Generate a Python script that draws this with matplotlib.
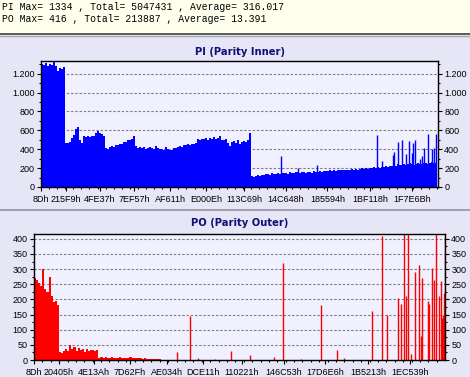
import numpy as np
import matplotlib
matplotlib.use("Agg")
import matplotlib.pyplot as plt
from matplotlib.lines import Line2D
from matplotlib.patches import Rectangle
from matplotlib.ticker import FixedLocator, FuncFormatter, MultipleLocator

# summary lines shown above the two charts
header_lines = [
    "PI Max= 1334 , Total= 5047431 , Average= 316.017",
    "PO Max= 416 , Total= 213887 , Average= 13.391",
]

# first scanned sector address and the width (in sectors) of one averaged bin
scan_start = 0x8D
bin_width = 11134

# PI (Parity Inner) errors, one value per bin
pi_values = [
    1300, 1288, 1318, 1282, 1306, 1296, 1334, 1284, 1232, 1262, 1250, 1272,
    465, 470, 480, 520, 555, 610, 630, 500, 470, 540, 525, 545, 530, 540,
    535, 570, 590, 575, 560, 545, 410, 400, 420, 430, 425, 445, 440, 460,
    455, 475, 480, 500, 495, 510, 545, 430, 415, 420,
    410, 420, 405, 415, 425, 410, 400, 430, 410, 405, 400, 395, 420, 405,
    390, 395, 410,
    415, 420, 430, 425, 445, 440, 450, 445, 455, 450, 470, 505, 500, 510,
    505, 515, 500, 520, 510, 530, 505, 515, 540, 500, 495, 505, 470, 430,
    480, 490, 470, 495, 455, 480, 490, 475, 500, 570,
    115, 110, 120, 125, 120, 130, 125, 135, 140, 130, 145, 140, 135, 145,
    140, 150,
    145, 150, 140, 155, 150, 145, 155, 160, 150, 155, 160, 150, 155, 160,
    150, 165, 155, 160,
    165, 160, 170, 165, 165, 175, 170, 180, 170, 175, 180, 175, 185, 180,
    185, 180, 190, 185, 195, 185, 190, 200, 195, 200, 190, 205, 200, 210,
    205, 210, 205, 215, 210, 220, 215, 220, 225, 230, 225, 240, 230, 235,
    245, 235, 240, 250, 240, 235, 245, 250, 240, 245, 250, 255, 245, 250,
    260, 250, 255,
]
# isolated PI peaks (sector address, errors)
pi_spike_addr = [1336221, 1430860, 1536633, 1872332, 1896828, 1958055,
                 1965292, 1989230, 2008158, 2030426, 2048797, 2067168,
                 2072735, 2083869, 2110034, 2119498, 2133972, 2152901,
                 2175169, 2189643, 2200777]
pi_spike_values = [330, 200, 230, 555, 270, 340, 370, 480, 500, 350, 490,
                   360, 470, 500, 300, 330, 410, 560, 400, 410, 560]
pi_tick_labels = ["8D", "215F9", "4FE37", "7EF57", "AF611", "E000E",
                  "113C69", "14C648", "185594", "1BF118", "1F7E6B"]

# PO (Parity Outer) errors, one value per bin (rest of the disc is clean)
po_values = [
    270, 265, 255, 245, 300, 235, 225, 275, 210, 190, 195, 180,
    28, 22, 30, 35, 30, 48, 35, 42, 30, 38, 32, 35, 28, 36, 30, 34, 32, 30,
    32,
    8, 10, 6, 9, 7, 8, 10, 6, 8, 7, 9, 6, 8, 7, 5, 10, 7, 6, 8, 5, 6, 4, 5,
    3, 4, 3, 2, 3, 2, 2,
]
po_spike_addr = [768661, 836769, 879673, 970844, 1055043, 1158549, 1288870,
                 1337137, 1430453, 1537713, 1626739, 1662671, 1814444,
                 1866465, 1893280, 1953882, 1968362, 1986060, 1996786,
                 2004294, 2023601, 2045053, 2066505, 2077231, 2082594,
                 2111554, 2118526, 2133007, 2146950, 2157676, 2173765,
                 2181273, 2188245, 2193608, 2198971, 2202500]
po_spike_values = [25, 145, 5, 4, 30, 18, 10, 320, 3, 180, 32, 7, 162, 410,
                   150, 205, 185, 416, 210, 416, 20, 290, 315, 80, 270, 195,
                   185, 305, 265, 416, 210, 260, 140, 150, 220, 405]
po_tick_labels = ["8D", "20405", "4E13A", "7D62F", "AE034", "DCE11",
                  "110221", "146C53", "17D6E6", "1B5213", "1EC539"]

W, H = 470, 377
panel_bg = "#E6E6F6"
plot_bg = "#F0F0FE"
title_color = "#101078"


def px_rect(left, top, right, bottom):
    # figure fraction rectangle from pixel coordinates (origin top-left)
    return [left / W, 1 - bottom / H, (right - left) / W, (bottom - top) / H]


def thousands(v, pos):
    return "{:,}".format(int(round(v))).replace(",", ".")


def draw_panel(ax, values, spike_addr, spike_values, color, ymax, ystep,
               tick_labels, xmax):
    left = scan_start + np.arange(len(values)) * bin_width
    ax.bar(left, values, width=bin_width, align="edge", color=color,
           linewidth=0, antialiased=False, zorder=2)
    ax.vlines(spike_addr, 0, spike_values, color=color, linewidth=1.0,
              zorder=2)

    ax.set_facecolor(plot_bg)
    ax.set_xlim(scan_start, xmax)
    ax.set_ylim(0, ymax)

    ax.yaxis.set_major_locator(MultipleLocator(ystep))
    ax.yaxis.set_major_formatter(FuncFormatter(thousands))
    ax.yaxis.set_minor_locator(MultipleLocator(ystep / 2))
    ticks = [int(s, 16) for s in tick_labels]
    ax.xaxis.set_major_locator(FixedLocator(ticks))
    ax.set_xticklabels([s + "h" for s in tick_labels])
    ax.xaxis.set_minor_locator(MultipleLocator(45000))

    ax.grid(axis="y", linestyle=(0, (2.2, 1.6)), color="#808080",
            linewidth=0.8)
    ax.set_axisbelow(True)

    ax.tick_params(which="both", direction="out", left=True, right=True,
                   labelleft=True, labelright=True, labelsize=6.5,
                   colors="black", width=0.8, pad=1.5)
    ax.tick_params(which="major", length=3)
    ax.tick_params(which="minor", length=1.5)
    ax.tick_params(axis="x", pad=2.5)
    for label in ax.get_xticklabels() + ax.get_yticklabels():
        label.set_family("Liberation Sans")
    for spine in ax.spines.values():
        spine.set_color("black")
        spine.set_linewidth(1.0)


fig = plt.figure(figsize=(W / 100, H / 100), dpi=100)
fig.patch.set_facecolor(panel_bg)

# header strip with the summary text
fig.patches.append(Rectangle((0, 1 - 33.5 / H), 1, 33.5 / H,
                             transform=fig.transFigure, color="#FFFFEE",
                             zorder=0))
fig.lines.append(Line2D([0, 1], [1 - 34 / H] * 2, transform=fig.transFigure,
                        color="#404040", linewidth=1.2))
fig.lines.append(Line2D([0, 1], [1 - 36 / H] * 2, transform=fig.transFigure,
                        color="#A8A8B0", linewidth=1.0))
for i, line in enumerate(header_lines):
    fig.text(2 / W, 1 - (6.5 + 12.3 * i) / H, line, ha="left", va="center",
             family="Liberation Mono", fontsize=7, color="black")

# separator between the two panels
fig.lines.append(Line2D([0, 1], [1 - 210.5 / H] * 2,
                        transform=fig.transFigure, color="#A0A0B0",
                        linewidth=1.4))

fig.text(240 / W, 1 - 52 / H, "PI (Parity Inner)", ha="center",
         va="center", fontsize=7.2, fontweight="bold", color=title_color)
fig.text(240 / W, 1 - 223 / H, "PO (Parity Outer)", ha="center",
         va="center", fontsize=7.2, fontweight="bold", color=title_color)

ax_pi = fig.add_axes(px_rect(41, 61, 438, 187))
draw_panel(ax_pi, pi_values, pi_spike_addr, pi_spike_values, "#0000FF",
           1334, 200, pi_tick_labels, 2210240)

ax_po = fig.add_axes(px_rect(34, 234, 445, 360))
draw_panel(ax_po, po_values, po_spike_addr, po_spike_values, "#FF0000",
           416, 50, po_tick_labels, 2204334)

fig.savefig("out.png", dpi=100, facecolor=fig.get_facecolor())
